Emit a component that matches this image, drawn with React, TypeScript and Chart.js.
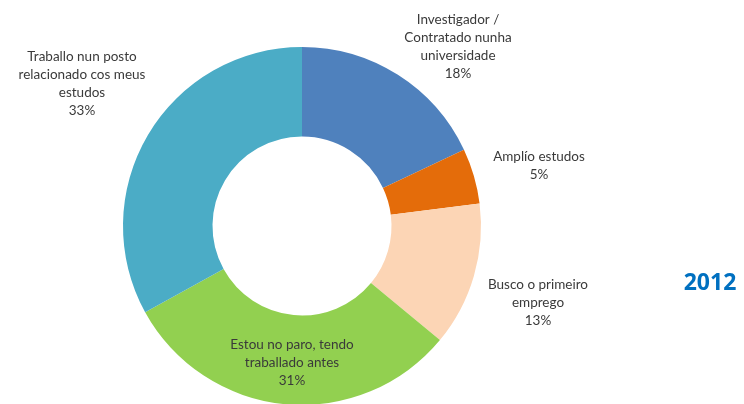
import React, { useEffect, useRef } from "react";
import { Chart, registerables } from "chart.js";

Chart.register(...registerables);

const categories: string[][] = [
  ["Investigador /", "Contratado nunha", "universidade"],
  ["Amplío estudos"],
  ["Busco o primeiro", "emprego"],
  ["Estou no paro, tendo", "traballado antes"],
  ["Traballo nun posto", "relacionado cos meus", "estudos"],
];
const values: number[] = [18, 5, 13, 31, 33];
const colors: string[] = ["#4F81BD", "#E46C0A", "#FCD5B5", "#92D050", "#4BACC6"];
const yearLabel = "2012";

// label anchor offsets (first-line centre) relative to doughnut centre
const labelOffsets: [number, number][] = [
  [156, -206],
  [237, -69],
  [236, 59],
  [-10, 119],
  [-220, -169],
];

const labelPlugin = {
  id: "sliceLabels",
  afterDraw(chart: any) {
    const meta = chart.getDatasetMeta(0);
    const arc = meta.data[0];
    if (!arc) return;
    const cx = arc.x;
    const cy = arc.y;
    const ctx = chart.ctx;
    ctx.save();
    ctx.font = "13.5px Lato";
    ctx.fillStyle = "#3a3a3a";
    ctx.textAlign = "center";
    ctx.textBaseline = "middle";
    const lh = 18;
    categories.forEach((lines, i) => {
      const [dx, dy] = labelOffsets[i];
      const all = [...lines, values[i] + "%"];
      all.forEach((t, j) => {
        ctx.fillText(t, cx + dx, cy + dy + j * lh);
      });
    });
    ctx.font = "bold 23px 'Open Sans'";
    ctx.fillStyle = "#0070C0";
    ctx.fillText(yearLabel, 710, 283);
    ctx.restore();
  },
};

export default function App() {
  const ref = useRef<HTMLCanvasElement>(null);
  useEffect(() => {
    if (!ref.current) return;
    const chart = new Chart(ref.current, {
      type: "doughnut",
      data: {
        labels: categories.map((c) => c.join(" ")),
        datasets: [
          {
            data: values,
            backgroundColor: colors,
            borderWidth: 0,
          },
        ],
      },
      options: {
        responsive: false,
        animation: false,
        cutout: "50%",
        layout: { padding: { left: 123, right: 263, top: 47, bottom: 15 } },
        plugins: {
          legend: { display: false },
          tooltip: { enabled: false },
        },
      },
      plugins: [labelPlugin],
    });
    return () => chart.destroy();
  }, []);
  return (
    <div
      style={{
        position: "absolute",
        left: 0,
        top: 0,
        width: 744,
        height: 404,
        overflow: "hidden",
        background: "#fff",
      }}
    >
      <canvas ref={ref} width={744} height={420} />
    </div>
  );
}
